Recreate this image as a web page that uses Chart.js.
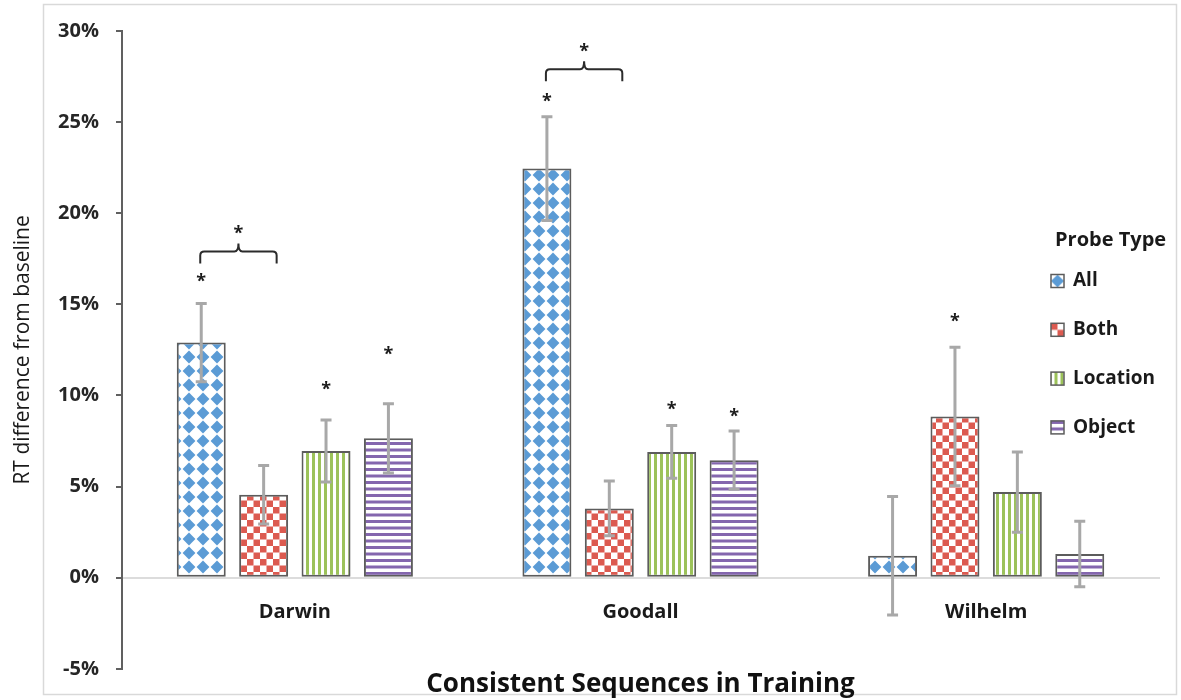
<!DOCTYPE html>
<html>
<head>
<meta charset="utf-8">
<title>RT difference from baseline by probe type</title>
<script src="https://cdn.jsdelivr.net/npm/chart.js@4.4.1/dist/chart.umd.min.js"></script>
<style>
  html, body { margin: 0; padding: 0; background: #ffffff; }
  canvas { display: block; }
</style>
</head>
<body>
<canvas id="rtChart" width="1181" height="700"></canvas>
<script>
// ---- data (percent RT difference from baseline) ----
const categories = ['Darwin', 'Goodall', 'Wilhelm'];
const probeTypes = ['All', 'Both', 'Location', 'Object'];

const allValues      = [12.9, 22.45, 1.2];
const bothValues     = [4.55, 3.8, 8.85];
const locationValues = [6.95, 6.9, 4.7];
const objectValues   = [7.65, 6.45, 1.3];

// standard error (symmetric)
const allErrors      = [2.15, 2.85, 3.25];
const bothErrors     = [1.6, 1.5, 3.8];
const locationErrors = [1.7, 1.45, 2.2];
const objectErrors   = [1.9, 1.6, 1.8];

// level of the significance asterisk for each bar (null = not significant)
const allStars      = [16.5, 26.4, null];
const bothStars     = [null, null, 14.3];
const locationStars = [10.6, 9.5, null];
const objectStars   = [12.5, 9.1, null];

// All-vs-Both comparison bracket, level of its horizontal bar per category
const bracketLevels = [17.9, 27.9, null];

const yTickValues = [-5, 0, 5, 10, 15, 20, 25, 30];

// ---- fill patterns ----
function makeTile(w, h, paint) {
  const c = document.createElement('canvas');
  c.width = w; c.height = h;
  const g = c.getContext('2d');
  g.fillStyle = '#ffffff';
  g.fillRect(0, 0, w, h);
  paint(g, w, h);
  return c;
}
const tiles = {
  All: makeTile(14, 14, (g) => {
    g.fillStyle = '#5b9bd5';
    g.beginPath();
    g.moveTo(7, 0.6); g.lineTo(13.4, 7); g.lineTo(7, 13.4); g.lineTo(0.6, 7);
    g.closePath(); g.fill();
  }),
  Both: makeTile(13, 13, (g) => {
    g.fillStyle = '#dc5a50';
    g.fillRect(0, 0, 6.5, 6.5);
    g.fillRect(6.5, 6.5, 6.5, 6.5);
  }),
  Location: makeTile(6, 6, (g) => {
    g.fillStyle = '#9cc25a';
    g.fillRect(0, 0, 3, 6);
  }),
  Object: makeTile(13, 13, (g) => {
    g.fillStyle = '#8466ae';
    g.fillRect(0, 0, 13, 3);
    g.fillRect(0, 6.5, 13, 3);
  })
};
const patCtx = document.createElement('canvas').getContext('2d');
const patterns = {};
probeTypes.forEach(p => { patterns[p] = patCtx.createPattern(tiles[p], 'repeat'); });

const seriesValues = [allValues, bothValues, locationValues, objectValues];
const seriesErrors = [allErrors, bothErrors, locationErrors, objectErrors];
const seriesStars  = [allStars, bothStars, locationStars, objectStars];

const datasets = probeTypes.map((name, i) => ({
  label: name,
  data: seriesValues[i],
  errors: seriesErrors[i],
  stars: seriesStars[i],
  backgroundColor: patterns[name],
  borderColor: '#5c5c5c',
  borderWidth: 2,
  borderSkipped: false,
  categoryPercentage: 0.722,
  barPercentage: 0.785
}));

const FONT = '"Open Sans", "Liberation Sans", sans-serif';

function drawAsterisk(ctx, x, y) {
  ctx.save();
  ctx.fillStyle = '#1a1a1a';
  ctx.font = 'bold 18px ' + FONT;
  ctx.textAlign = 'center';
  ctx.textBaseline = 'alphabetic';
  ctx.fillText('*', x, y + 10);
  ctx.restore();
}

// frame around the figure
const framePlugin = {
  id: 'frame',
  beforeDraw(chart) {
    const ctx = chart.ctx;
    ctx.save();
    ctx.fillStyle = '#ffffff';
    ctx.fillRect(0, 0, chart.width, chart.height);
    ctx.strokeStyle = '#d9d9d9';
    ctx.lineWidth = 1.5;
    ctx.strokeRect(43.5, 4.5, 1133, 690);
    ctx.restore();
  }
};

// error bars, significance asterisks and comparison brackets
const marksPlugin = {
  id: 'marks',
  afterDatasetsDraw(chart) {
    const ctx = chart.ctx;
    const y = chart.scales.y;
    chart.data.datasets.forEach((ds, di) => {
      const meta = chart.getDatasetMeta(di);
      meta.data.forEach((bar, i) => {
        const v = ds.data[i], e = ds.errors[i];
        const top = y.getPixelForValue(v + e);
        const bot = y.getPixelForValue(v - e);
        ctx.save();
        ctx.strokeStyle = '#a8a8a8';
        ctx.lineWidth = 3;
        ctx.beginPath();
        ctx.moveTo(bar.x, top); ctx.lineTo(bar.x, bot);
        ctx.moveTo(bar.x - 5.5, top); ctx.lineTo(bar.x + 5.5, top);
        ctx.moveTo(bar.x - 5.5, bot); ctx.lineTo(bar.x + 5.5, bot);
        ctx.stroke();
        ctx.restore();
        const s = ds.stars[i];
        if (s !== null) drawAsterisk(ctx, bar.x, y.getPixelForValue(s));
      });
    });
    bracketLevels.forEach((lvl, ci) => {
      if (lvl === null) return;
      const a = chart.getDatasetMeta(0).data[ci];
      const b = chart.getDatasetMeta(1).data[ci];
      const x1 = a.x - 1, x2 = b.x + 13, xm = (x1 + x2) / 2;
      const yt = y.getPixelForValue(lvl);
      const leg = 12, r = 4, peak = 8;
      ctx.save();
      ctx.strokeStyle = '#2b2b2b';
      ctx.lineWidth = 2;
      ctx.beginPath();
      ctx.moveTo(x1, yt + leg);
      ctx.lineTo(x1, yt + r);
      ctx.quadraticCurveTo(x1, yt, x1 + r, yt);
      ctx.lineTo(xm - 4, yt);
      ctx.quadraticCurveTo(xm, yt, xm, yt - peak);
      ctx.quadraticCurveTo(xm, yt, xm + 4, yt);
      ctx.lineTo(x2 - r, yt);
      ctx.quadraticCurveTo(x2, yt, x2, yt + r);
      ctx.lineTo(x2, yt + leg);
      ctx.stroke();
      ctx.restore();
      drawAsterisk(ctx, xm, yt - 22);
    });
  }
};

// legend box at the right
const legendPlugin = {
  id: 'probeLegend',
  afterDraw(chart) {
    const ctx = chart.ctx;
    ctx.save();
    ctx.fillStyle = '#1a1a1a';
    ctx.textBaseline = 'middle';
    ctx.textAlign = 'left';
    ctx.font = 'bold 20px ' + FONT;
    ctx.fillText('Probe Type', 1055, 240);
    ctx.font = 'bold 19px ' + FONT;
    chart.data.datasets.forEach((ds, i) => {
      const cy = 281 + i * 48.8;
      const mx = 1051, my = cy - 6.5, ms = 13;
      const pat = ctx.createPattern(tiles[ds.label], 'repeat');
      const tw = tiles[ds.label].width;
      pat.setTransform(new DOMMatrix().translate(mx + ms / 2 - tw / 2, my + ms / 2 - tw / 2));
      ctx.fillStyle = pat;
      ctx.fillRect(mx, my, ms, ms);
      ctx.strokeStyle = '#5c5c5c';
      ctx.lineWidth = 1.5;
      ctx.strokeRect(mx, my, ms, ms);
      ctx.fillStyle = '#1a1a1a';
      ctx.fillText(ds.label, 1073, cy);
    });
    ctx.restore();
  }
};

new Chart(document.getElementById('rtChart'), {
  type: 'bar',
  data: { labels: categories, datasets },
  plugins: [framePlugin, marksPlugin, legendPlugin],
  options: {
    responsive: false,
    animation: false,
    devicePixelRatio: 1,
    layout: { padding: { top: 31, right: 22, left: 0, bottom: 0 } },
    plugins: {
      legend: { display: false },
      tooltip: { enabled: false },
      title: {
        display: true,
        position: 'bottom',
        fullSize: false,
        text: 'Consistent Sequences in Training',
        color: '#111111',
        font: { family: FONT, size: 26, weight: 'bold' },
        padding: { top: 0, bottom: 0 }
      }
    },
    scales: {
      x: {
        position: { y: 0 },
        grid: { display: false, drawTicks: false },
        border: { display: true, color: '#dcdcdc', width: 2 },
        ticks: {
          color: '#1a1a1a',
          font: { family: FONT, size: 20, weight: 'bold' },
          padding: 23
        },
        afterFit(scale) { scale.height = 0; }
      },
      y: {
        min: -5,
        max: 30,
        afterBuildTicks(scale) { scale.ticks = yTickValues.map(v => ({ value: v })); },
        grid: { drawOnChartArea: false, drawTicks: true, tickLength: 6, color: '#606060', lineWidth: 2 },
        border: { display: true, color: '#606060', width: 2 },
        ticks: {
          color: '#262626',
          font: { family: FONT, size: 20, weight: 'bold' },
          padding: 17,
          callback: (v) => v + '%'
        },
        title: {
          display: true,
          text: 'RT difference from baseline',
          color: '#1a1a1a',
          font: { family: FONT, size: 21, weight: 'normal' },
          padding: { top: 10, bottom: 0 }
        },
        afterFit(scale) { scale.width = 122; }
      }
    }
  }
});
</script>
</body>
</html>
